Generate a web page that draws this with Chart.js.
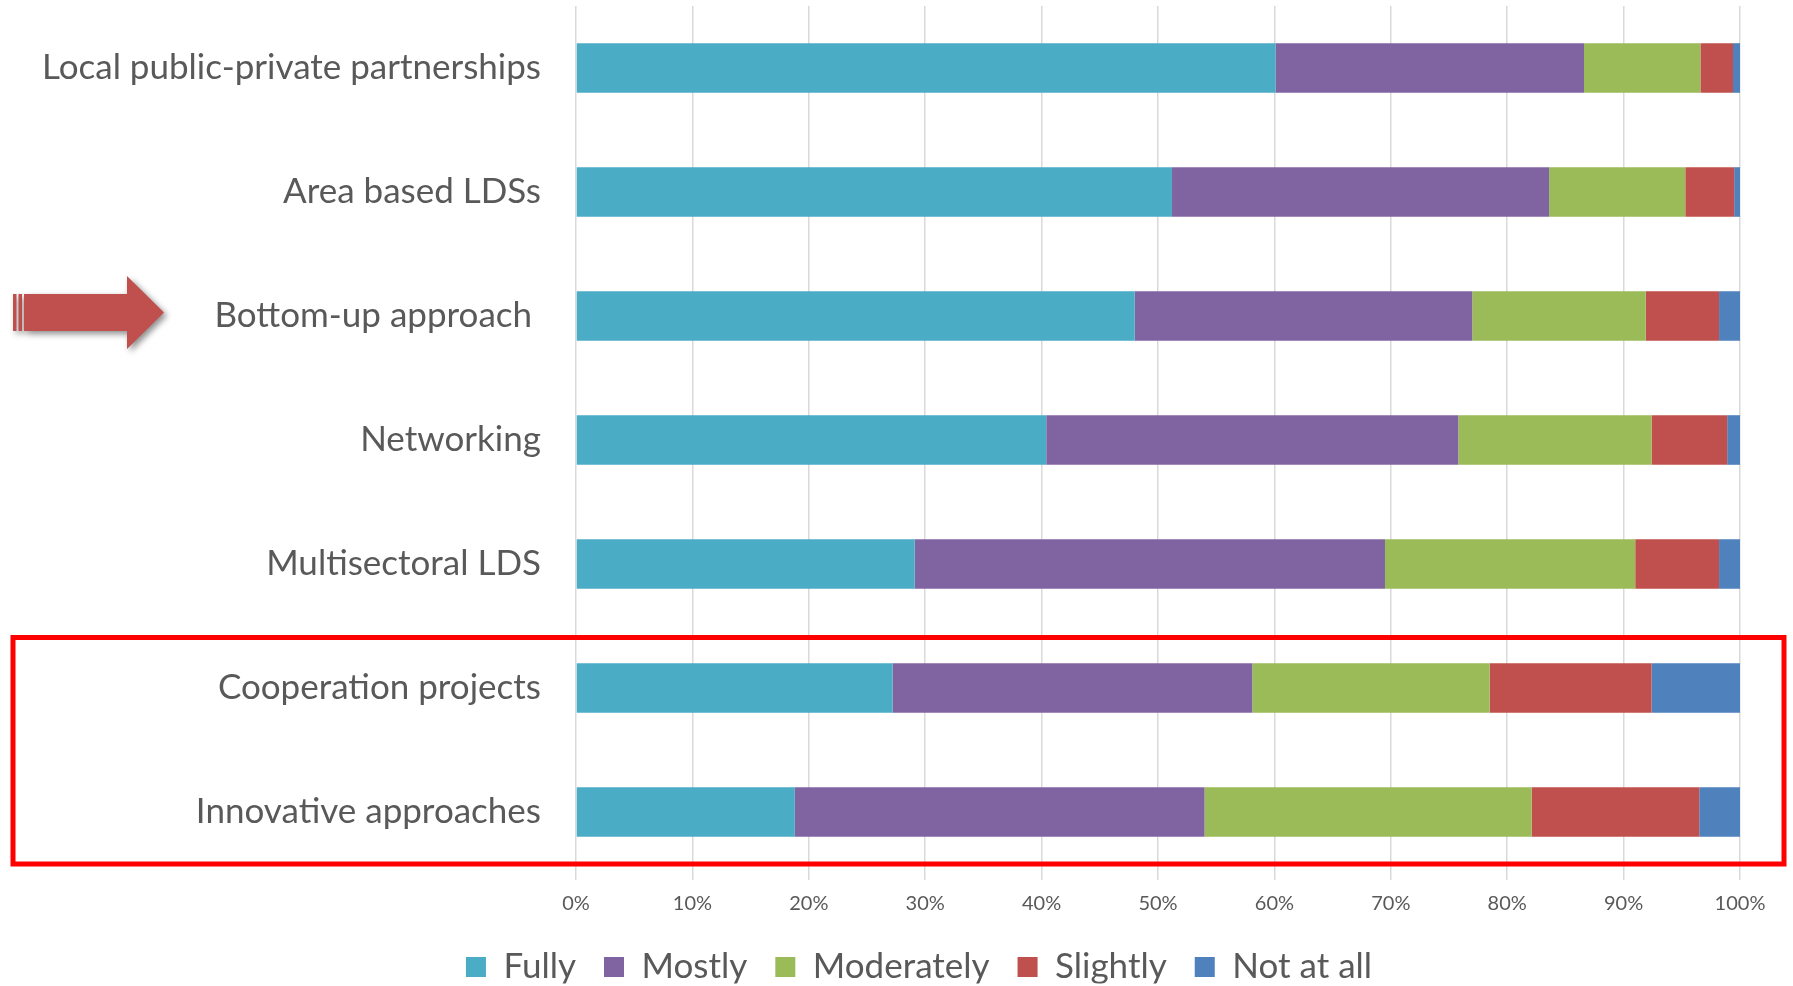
<!DOCTYPE html>
<html>
<head>
<meta charset="utf-8">
<title>LEADER features</title>
<script src="https://cdn.jsdelivr.net/npm/chart.js@4.4.1/dist/chart.umd.min.js"></script>
<style>
  html, body { margin: 0; padding: 0; background: #ffffff; }
  #wrap { width: 1793px; height: 986px; }
</style>
</head>
<body>
<div id="wrap"><canvas id="myChart" width="1793" height="986"></canvas></div>
<script>
// categorias (de arriba a abajo)
const categories = [
    'Local public-private partnerships',
    'Area based LDSs',
    'Bottom-up approach ',
    'Networking',
    'Multisectoral LDS',
    'Cooperation projects',
    'Innovative approaches'
];

// porcentajes
const fully      = [60.1, 51.2, 48.0, 40.4, 29.1, 27.2, 18.8];
const mostly     = [26.5, 32.4, 29.0, 35.4, 40.4, 30.9, 35.2];
const moderately = [10.0, 11.7, 14.9, 16.6, 21.5, 20.4, 28.1];
const slightly   = [ 2.8,  4.2,  6.3,  6.5,  7.2, 13.9, 14.4];
const notAtAll   = [ 0.6,  0.5,  1.8,  1.1,  1.8,  7.6,  3.5];

const xTickLabels = ['0%', '10%', '20%', '30%', '40%', '50%', '60%', '70%', '80%', '90%', '100%'];

const textColor = '#595959';
const fontFamily = 'Lato, "Open Sans", sans-serif';

function makeSet(label, values, color) {
    return {
        label: label,
        data: values,
        backgroundColor: color,
        borderWidth: 0,
        barPercentage: 0.4,
        categoryPercentage: 1.0
    };
}

// recuadro rojo, flecha y leyenda algo desplazada a la derecha
const decorations = {
    id: 'decorations',
    afterLayout(chart) {
        chart.legend.left += 49;
        chart.legend.right += 49;
    },
    afterDraw(chart) {
        const ctx = chart.ctx;
        const y = chart.scales.y;

        // flecha junto a "Bottom-up approach"
        const c = y.getPixelForValue(2) - 3.5;
        ctx.save();
        ctx.shadowColor = 'rgba(0,0,0,0.45)';
        ctx.shadowBlur = 6;
        ctx.shadowOffsetX = 3;
        ctx.shadowOffsetY = 3;
        ctx.fillStyle = '#C0504D';
        ctx.fillRect(13, c - 18.5, 3.5, 37);
        ctx.fillRect(18.5, c - 18.5, 3.5, 37);
        ctx.beginPath();
        ctx.moveTo(24, c - 18.5);
        ctx.lineTo(127, c - 18.5);
        ctx.lineTo(127, c - 36.5);
        ctx.lineTo(164, c);
        ctx.lineTo(127, c + 36.5);
        ctx.lineTo(127, c + 18.5);
        ctx.lineTo(24, c + 18.5);
        ctx.closePath();
        ctx.fill();
        ctx.restore();

        // recuadro de las dos ultimas categorias
        const top = y.getPixelForValue(5) - 50.5;
        const bottom = y.getPixelForValue(6) + 52;
        ctx.save();
        ctx.strokeStyle = '#FF0000';
        ctx.lineWidth = 5;
        ctx.strokeRect(13, top, 1784 - 13, bottom - top);
        ctx.restore();
    }
};

const config = {
    type: 'bar',
    data: {
        labels: categories,
        datasets: [
            makeSet('Fully', fully, '#4BACC6'),
            makeSet('Mostly', mostly, '#8064A2'),
            makeSet('Moderately', moderately, '#9BBB59'),
            makeSet('Slightly', slightly, '#C0504D'),
            makeSet('Not at all', notAtAll, '#4F81BD')
        ]
    },
    options: {
        indexAxis: 'y',
        responsive: false,
        animation: false,
        layout: {
            padding: { left: 0, right: 53, top: 6, bottom: 2.5 }
        },
        scales: {
            x: {
                stacked: true,
                min: 0,
                max: 100,
                ticks: {
                    stepSize: 10,
                    padding: 12,
                    color: textColor,
                    font: { family: fontFamily, size: 20 },
                    callback: (v, i) => xTickLabels[i]
                },
                grid: { color: '#D9D9D9', lineWidth: 1.5, tickLength: 6, drawTicks: true },
                border: { display: false },
                afterFit: (s) => {
                    s.height = 47.5;
                    s.paddingLeft = 0;
                    s.paddingRight = 0;
                }
            },
            y: {
                stacked: true,
                ticks: {
                    padding: 35,
                    color: textColor,
                    font: { family: fontFamily, size: 35 }
                },
                grid: { display: false, drawTicks: false },
                border: { display: false },
                afterFit: (s) => {
                    s.width = 576;
                    s.paddingTop = 0;
                    s.paddingBottom = 0;
                }
            }
        },
        plugins: {
            legend: {
                position: 'bottom',
                maxHeight: 62,
                labels: {
                    boxWidth: 20,
                    boxHeight: 20,
                    padding: 28,
                    color: textColor,
                    font: { family: fontFamily, size: 35 }
                }
            },
            tooltip: { enabled: false }
        }
    },
    plugins: [decorations]
};

// Crear el grafico
var myChart = new Chart(document.getElementById('myChart'), config);
</script>
</body>
</html>
